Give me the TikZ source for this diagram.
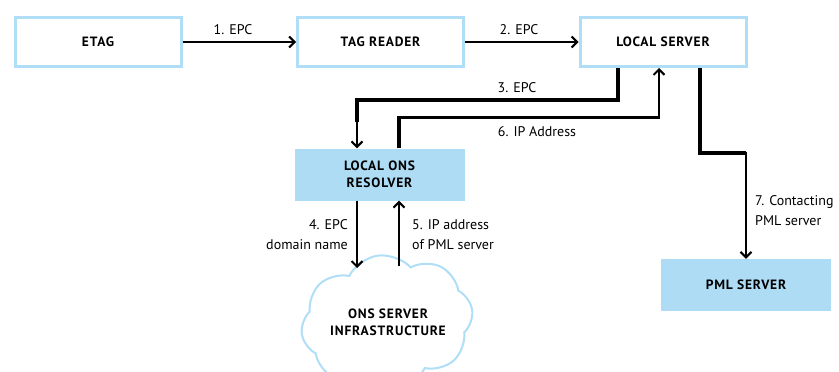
\documentclass[tikz,border=0pt]{standalone}
\usepackage{fontspec}
\setmainfont{PT Sans}
\newfontfamily\boxfont[LetterSpace=6]{PT Sans}
\usetikzlibrary{arrows.meta,shapes.symbols}
\definecolor{bordblue}{HTML}{B0DEF6}
\definecolor{fillblue}{HTML}{AEDCF4}
\tikzset{
  box/.style={draw=bordblue, line width=3pt, minimum width=166pt, minimum height=49pt, inner sep=0pt,
    font=\boxfont\bfseries\fontsize{13.5}{17}\selectfont, align=center},
  fbox/.style={fill=fillblue, draw=none, minimum width=170pt, minimum height=52pt, inner sep=0pt,
    font=\boxfont\bfseries\fontsize{13.5}{17}\selectfont, align=center},
  lbl/.style={font=\fontsize{14}{20}\selectfont, inner sep=0pt},
  tip/.style={-{Straight Barb[length=5.5pt,width=11pt,line width=2pt]}},
  arr/.style={line width=2.2pt, tip},
  thick3/.style={line width=3.6pt},
}
\begin{document}
\begin{tikzpicture}[x=1pt,y=-1pt]
\useasboundingbox (0,0) rectangle (839,372);
\begin{scope}
\clip (0,0) rectangle (839,372);
\node[cloud, draw=bordblue, line width=2pt, cloud puffs=8, cloud puff arc=110, aspect=1.3,
  minimum width=172pt, minimum height=134pt, inner sep=0pt, rotate=8] (cloud) at (387,322) {};
\end{scope}
\node[font=\boxfont\bfseries\fontsize{13.5}{17}\selectfont, align=center] (cloudtxt) at (388,322) {ONS SERVER\\INFRASTRUCTURE};

\node[box] (etag) at (98,42) {ETAG};
\node[box] (tr) at (380.5,42) {TAG READER};
\node[box] (ls) at (663,42) {LOCAL SERVER};
\node[fbox] (lons) at (379.5,174.5) {LOCAL ONS\\RESOLVER};
\node[fbox] (pml) at (746,285) {PML SERVER};

% 1 and 2
\draw[arr] (etag.east) -- (tr.west);
\node[lbl] (l1) at (233,30) {1. EPC};
\draw[arr] (tr.east) -- (ls.west);
\node[lbl] (l2) at (519,30) {2. EPC};

% 3
\coordinate (a3) at (618,0);
\coordinate (b3) at (357,0);
\draw[thick3, line cap=butt] (a3 |- ls.south) -- (618,100) -- (357,100) -- (357,122);
\draw[line width=2pt, tip] (357,120) -- (b3 |- lons.north);
\node[lbl] (l3) at (517,88) {3. EPC};

% 6
\coordinate (a6) at (399,0);
\coordinate (b6) at (659,0);
\draw[thick3] (a6 |- lons.north) -- (399,117.5) -- (659,117.5);
\draw[line width=2pt, tip] (659,119) -- (b6 |- ls.south);
\node[lbl] (l6) at (537,132) {6. IP Address};

% 4 and 5
\coordinate (a4) at (357,0);
\draw[arr] (a4 |- lons.south) -- (357,268);
\node[lbl, align=right, anchor=east] (l4) at (348,235) {4. EPC\\domain name};
\draw[arr] (399,266) -- (a6 |- lons.south);
\node[lbl, align=left, anchor=west] (l5) at (412,235) {5. IP address\\of PML server};

% 7
\coordinate (a7) at (700,0);
\coordinate (b7) at (746,0);
\draw[thick3] (a7 |- ls.south) -- (700,153) -- (746,153);
\draw[line width=2pt, tip] (746,152) -- (b7 |- pml.north);
\node[lbl, align=left, anchor=west] (l7) at (755,211) {7. Contacting\\PML server};
\end{tikzpicture}
\end{document}
